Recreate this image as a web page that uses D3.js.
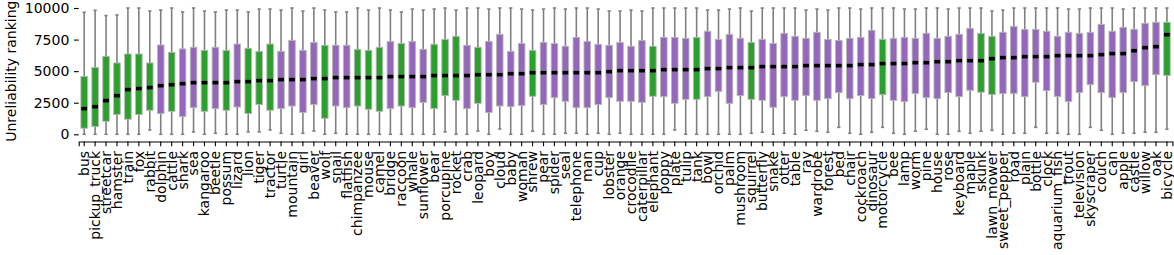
<!DOCTYPE html>
<html>
<head>
<meta charset="utf-8">
<script src="https://cdn.jsdelivr.net/npm/d3@7"></script>
<style>
  body { margin: 0; background: #fff; }
  svg { display: block; font-family: "DejaVu Sans", sans-serif; }
</style>
</head>
<body>
<div id="chart"></div>
<script>
// classes, sorted by median unreliability ranking
var categories = ["bus","pickup_truck","streetcar","hamster","train","fox","rabbit","dolphin","cattle","shark",
  "sea","kangaroo","beetle","possum","lizard","lion","tiger","tractor","turtle","mountain",
  "girl","beaver","wolf","snail","flatfish","chimpanzee","mouse","camel","bridge","raccoon",
  "whale","sunflower","bear","porcupine","rocket","crab","leopard","boy","cloud","baby",
  "woman","shrew","pear","spider","seal","telephone","man","cup","lobster","orange",
  "crocodile","caterpillar","elephant","poppy","plate","tulip","tank","bowl","orchid","palm",
  "mushroom","squirrel","butterfly","snake","otter","table","ray","wardrobe","forest","bed",
  "chair","cockroach","dinosaur","motorcycle","bee","lamp","worm","pine","house","rose",
  "keyboard","maple","skunk","lawn_mower","sweet_pepper","road","plain","bottle","clock","aquarium_fish",
  "trout","television","skyscraper","couch","can","apple","castle","willow","oak","bicycle"];

// classes drawn in green, the rest in purple
var greenClasses = ["bus","pickup_truck","streetcar","hamster","train","fox","rabbit","cattle","kangaroo","possum",
  "lion","tiger","tractor","wolf","chimpanzee","mouse","camel","raccoon","bear","porcupine",
  "rocket","leopard","shrew","elephant","tank","squirrel","motorcycle","skunk","lawn_mower","bicycle"];

var whiskerLow = [0,0,0,0,0,0,340,0,0,0,
  190,0,80,0,0,190,190,340,80,0,
  80,260,0,80,0,0,0,0,0,0,
  0,0,0,190,0,0,260,0,420,0,
  0,240,0,0,80,80,0,80,0,80,
  0,0,0,0,340,0,0,0,0,0,
  0,80,160,0,80,0,320,240,160,550,
  80,0,160,550,80,0,240,400,0,0,
  240,80,240,320,0,80,80,550,80,80,
  0,0,550,320,0,80,80,160,160,400];

var q1 = [480,610,1030,1560,1190,1560,1900,1640,1820,1400,
  2110,1820,2030,1900,2160,1640,2350,1900,2030,2240,
  1720,2350,1270,2240,2110,2240,1980,1820,2030,2240,
  2110,2530,2030,3060,2690,2030,2450,1720,2240,2190,
  2270,3010,2350,2900,2610,2110,2110,2350,2900,2610,
  2610,2530,3010,2980,2450,2770,2770,2980,3400,2450,
  3060,2770,2690,2140,2980,2690,3060,2690,2820,3300,
  2820,3060,2820,3140,2690,2590,3220,2900,2820,3300,
  2980,3480,3330,3140,3220,3220,2980,4120,3460,2980,
  2590,3300,3930,3300,2900,3300,4170,3850,4720,4650];

var medians = [2030,2190,2670,3060,3540,3620,3700,3850,3930,4010,
  4090,4090,4090,4090,4170,4170,4250,4250,4330,4330,
  4330,4410,4410,4490,4490,4490,4490,4490,4570,4570,
  4570,4570,4650,4650,4650,4650,4720,4720,4720,4800,
  4800,4880,4880,4880,4880,4880,4880,4880,4960,5040,
  5040,5040,5040,5120,5120,5120,5120,5200,5200,5280,
  5280,5280,5360,5360,5360,5360,5440,5440,5440,5440,
  5440,5520,5520,5600,5600,5600,5670,5670,5750,5750,
  5830,5830,5830,5990,6070,6070,6150,6150,6150,6230,
  6230,6230,6230,6310,6390,6390,6620,6860,6940,7890];

var q3 = [4590,5300,6180,5650,6360,6360,5650,7070,6490,6760,
  6890,6650,6890,6650,7150,6810,6570,7150,6570,7440,
  6650,7280,7050,7050,7050,6730,6650,6890,7360,7200,
  7360,6730,7130,7520,7760,7050,6890,7360,7920,6570,
  7200,6650,7280,7200,6970,7680,7360,7130,7050,7280,
  6970,7440,6970,7680,7680,7600,7680,8160,7520,7920,
  7600,7280,7520,7200,8000,7760,7600,8080,7520,7440,
  7600,7680,8230,7520,7600,7680,7600,8000,7600,7760,
  7920,8390,8000,7760,8080,8550,8310,8310,8160,7760,
  8080,8000,8080,8710,8160,8470,8310,8790,8870,8870];

var whiskerHigh = [9660,9820,9400,9450,10000,10000,9760,9840,10000,9690,
  10000,9760,9690,9840,9840,9690,9920,9920,9840,10000,
  9760,10000,9840,9690,9690,10000,9840,10000,9840,9690,
  9920,9840,9920,10000,9840,10000,10000,9920,10000,10000,
  9920,9840,9920,10000,9920,10000,10000,9920,9760,9760,
  9840,9760,10000,10000,10000,10000,10000,9840,9840,9920,
  10000,9760,10000,10000,10000,10000,9840,9920,9840,10000,
  10000,9920,10000,10000,10000,9920,9920,10000,10000,9920,
  10000,10000,10000,9760,9840,10000,10000,10000,10000,10000,
  9920,9920,10000,10000,10000,9920,10000,10000,10000,10000];

var yTicks = [0, 2500, 5000, 7500, 10000];

var W = 1174, H = 255;
var plotLeft = 78.7, plotRight = 1172.4, plotTop = 1.7, plotBottom = 141.5;
var green = "#2ca02c", purple = "#9467bd";
var fontSize = "14px";

var boxes = categories.map((c, i) => ({
  name: c, low: whiskerLow[i], q1: q1[i], med: medians[i], q3: q3[i], high: whiskerHigh[i],
  color: greenClasses.indexOf(c) >= 0 ? green : purple
}));

var svg = d3.select("#chart").append("svg")
    .attr("width", W)
    .attr("height", H);

var x = d3.scaleBand()
    .domain(categories)
    .range([plotLeft, plotRight])
    .padding(0);

var y = d3.scaleLinear()
    .domain([-570, 10500])
    .range([plotBottom, plotTop]);

var bw = x.bandwidth() * 0.6;
var capW = bw * 0.5;

var g = svg.append("g");
var box = g.selectAll("g.box")
    .data(boxes)
    .join("g")
    .attr("class", "box")
    .attr("transform", d => `translate(${x(d.name) + x.bandwidth() / 2},0)`);

// whiskers
box.append("line")
    .attr("x1", 0).attr("x2", 0)
    .attr("y1", d => y(d.low)).attr("y2", d => y(d.high))
    .attr("stroke", "#808080").attr("stroke-width", 1.6);
// caps
box.selectAll("line.cap")
    .data(d => [d.low, d.high])
    .join("line")
    .attr("class", "cap")
    .attr("x1", -capW / 2).attr("x2", capW / 2)
    .attr("y1", v => y(v)).attr("y2", v => y(v))
    .attr("stroke", "#808080").attr("stroke-width", 1.6);
// box
box.append("rect")
    .attr("x", -bw / 2)
    .attr("width", bw)
    .attr("y", d => y(d.q3))
    .attr("height", d => y(d.q1) - y(d.q3))
    .attr("fill", d => d.color)
    .attr("stroke", "#b8b8b8")
    .attr("stroke-width", 0.9);
// median
box.append("line")
    .attr("x1", -bw / 2 + 0.4).attr("x2", bw / 2 - 0.4)
    .attr("y1", d => y(d.med)).attr("y2", d => y(d.med))
    .attr("stroke", "#000").attr("stroke-width", 3.6);

// y axis (spine hidden)
var yAxis = svg.append("g")
    .attr("transform", `translate(${plotLeft},0)`)
    .call(d3.axisLeft(y).tickValues(yTicks).tickFormat(d3.format("d")).tickSizeOuter(0).tickSize(4.7).tickPadding(4.7));
yAxis.select(".domain").remove();
yAxis.selectAll("line").attr("stroke", "#000").attr("stroke-width", 1.1);
yAxis.selectAll("text").attr("font-size", fontSize).attr("font-family", "DejaVu Sans").attr("fill", "#000");

// x axis
var xAxis = svg.append("g")
    .attr("transform", `translate(0,${plotBottom})`)
    .call(d3.axisBottom(x).tickSizeOuter(0).tickSize(4.7).tickPadding(4.7));
xAxis.select(".domain").attr("stroke", "#000").attr("stroke-width", 1.1);
xAxis.selectAll("line").attr("stroke", "#000").attr("stroke-width", 1.1);
xAxis.selectAll("text")
    .attr("font-size", fontSize)
    .attr("font-family", "DejaVu Sans")
    .attr("fill", "#000")
    .attr("text-anchor", "end")
    .attr("y", 0)
    .attr("dy", "0.35em")
    .attr("transform", "translate(0,9.4) rotate(-90)");

svg.append("text")
    .attr("transform", `translate(16,${(y(0) + y(10000)) / 2}) rotate(-90)`)
    .attr("text-anchor", "middle")
    .attr("font-size", fontSize)
    .attr("fill", "#000")
    .text("Unreliability ranking");
</script>
</body>
</html>
